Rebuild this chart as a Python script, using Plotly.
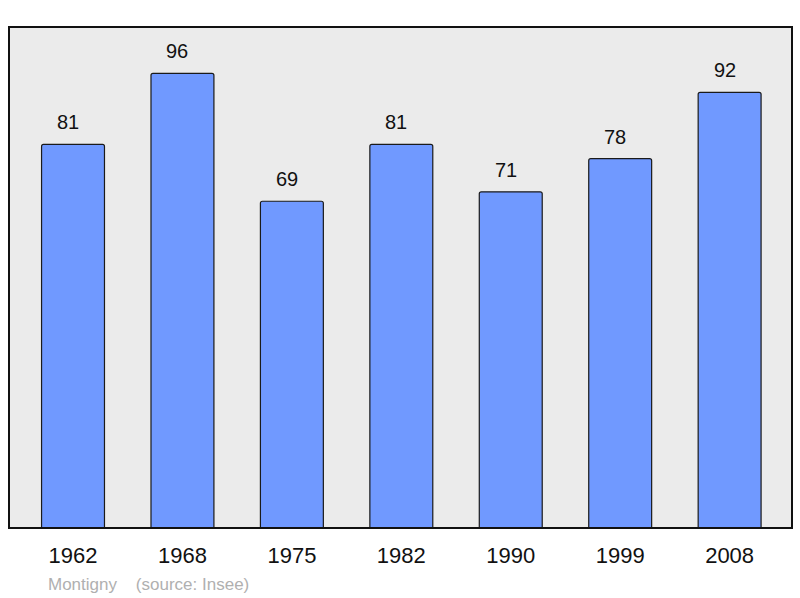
import plotly.graph_objects as go

# Population data
years = ["1962", "1968", "1975", "1982", "1990", "1999", "2008"]
population = [81, 96, 69, 81, 71, 78, 92]

town = "Montigny"
source = "(source: Insee)"

fig = go.Figure()

fig.add_trace(go.Bar(
    x=years,
    y=population,
    width=0.575,
    marker=dict(color="#7099ff", line=dict(color="#1a1a1a", width=1.2), cornerradius=2),
    hoverinfo="x+y",
))

# value labels above the bars (category axis -> use index positions)
for i, val in enumerate(population):
    fig.add_annotation(
        x=i, y=val, text=str(val), showarrow=False,
        yanchor="bottom", yshift=9, xshift=-5,
        font=dict(family="Liberation Sans, Arial", size=20, color="#111111"),
    )

# footer text
fig.add_annotation(
    xref="paper", yref="paper", x=0.047, y=-0.112,
    xanchor="left", yanchor="middle", showarrow=False,
    text=town + "    " + source,
    font=dict(family="Liberation Sans, Arial", size=17, color="#b0b0b0"),
)

# frame around the plot area
fig.add_shape(
    type="rect", xref="paper", yref="paper", x0=0, y0=0, x1=1, y1=1,
    line=dict(color="#111111", width=2), layer="above",
)

fig.update_layout(
    width=800, height=598,
    margin=dict(l=9, r=8, t=27, b=70),
    paper_bgcolor="white",
    plot_bgcolor="#ebebeb",
    showlegend=False,
    xaxis=dict(
        type="category",
        range=[-0.585, 6.57],
        showgrid=False, zeroline=False, showline=False,
        ticks="", ticklabelstandoff=12,
        tickfont=dict(family="Liberation Sans, Arial", size=22, color="#111111"),
    ),
    yaxis=dict(
        range=[0, 105.8],
        showgrid=False, zeroline=False, showline=False,
        showticklabels=False, ticks="",
    ),
)

# drop the default page margin so the figure sits at the window corner
fig.write_html("out.html", config={"displayModeBar": False},
               post_script="document.body.style.margin='0';")
